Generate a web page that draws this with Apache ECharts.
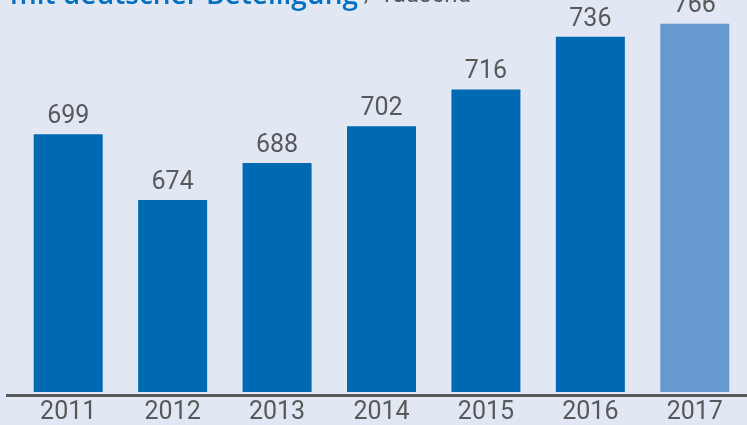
<!DOCTYPE html>
<html>
<head>
<meta charset="utf-8">
<script src="https://cdn.jsdelivr.net/npm/echarts@6/dist/echarts.min.js"></script>
<style>
html,body{margin:0;padding:0;background:#e1e8f3;}
#c{width:747px;height:425px;}
</style>
</head>
<body>
<div id="c"></div>
<script>
// Data
var years = ['2011', '2012', '2013', '2014', '2015', '2016', '2017'];
var values = [699, 674, 688, 702, 716, 736, 766];
// 2017 bar is drawn shorter than scale in the reference (forecast, cut axis); height
var drawnValues = [699, 674, 688, 702, 716, 736, 741];
var titleMain = 'mit deutscher Beteiligung';
var titleUnit = ' / Tausend';

var chart = echarts.init(document.getElementById('c'), null, {renderer: 'canvas'});
var font = 'Roboto, sans-serif';

chart.setOption({
  backgroundColor: '#e1e8f3',
  animation: false,
  grid: {left: 16, right: -4, top: 0, bottom: 30, containLabel: false},
  xAxis: {
    type: 'category',
    data: years,
    axisLine: {show: false},
    axisTick: {show: false},
    axisLabel: {color: '#58595b', fontFamily: font, fontSize: 25, margin: 8}
  },
  yAxis: {
    type: 'value',
    min: 601,
    max: 750,
    show: false,
    splitLine: {show: false}
  },
  series: [{
    type: 'bar',
    barWidth: 69,
    data: drawnValues.map(function (v, i) {
      return {
        value: v,
        itemStyle: {color: i === drawnValues.length - 1 ? '#6699cf' : '#0069b4'}
      };
    }),
    label: {
      show: true,
      position: 'top',
      distance: 5,
      color: '#58595b',
      fontFamily: font,
      fontSize: 25,
      formatter: function (p) { return String(values[p.dataIndex]); }
    }
  }],
  graphic: [
    {
      type: 'line',
      shape: {x1: 6, y1: 395.5, x2: 747, y2: 395.5},
      style: {stroke: '#58595b', lineWidth: 3},
      z: 100
    },
    {
      type: 'text',
      left: 10,
      top: -18,
      style: {
        text: '{a|' + titleMain + '}{b|' + titleUnit + '}',
        rich: {
          a: {fontSize: 28, fontWeight: 600, fill: '#0070c0', fontFamily: '"Open Sans", sans-serif'},
          b: {fontSize: 24, fill: '#58595b', fontFamily: font}
        }
      }
    }
  ]
});
</script>
</body>
</html>
